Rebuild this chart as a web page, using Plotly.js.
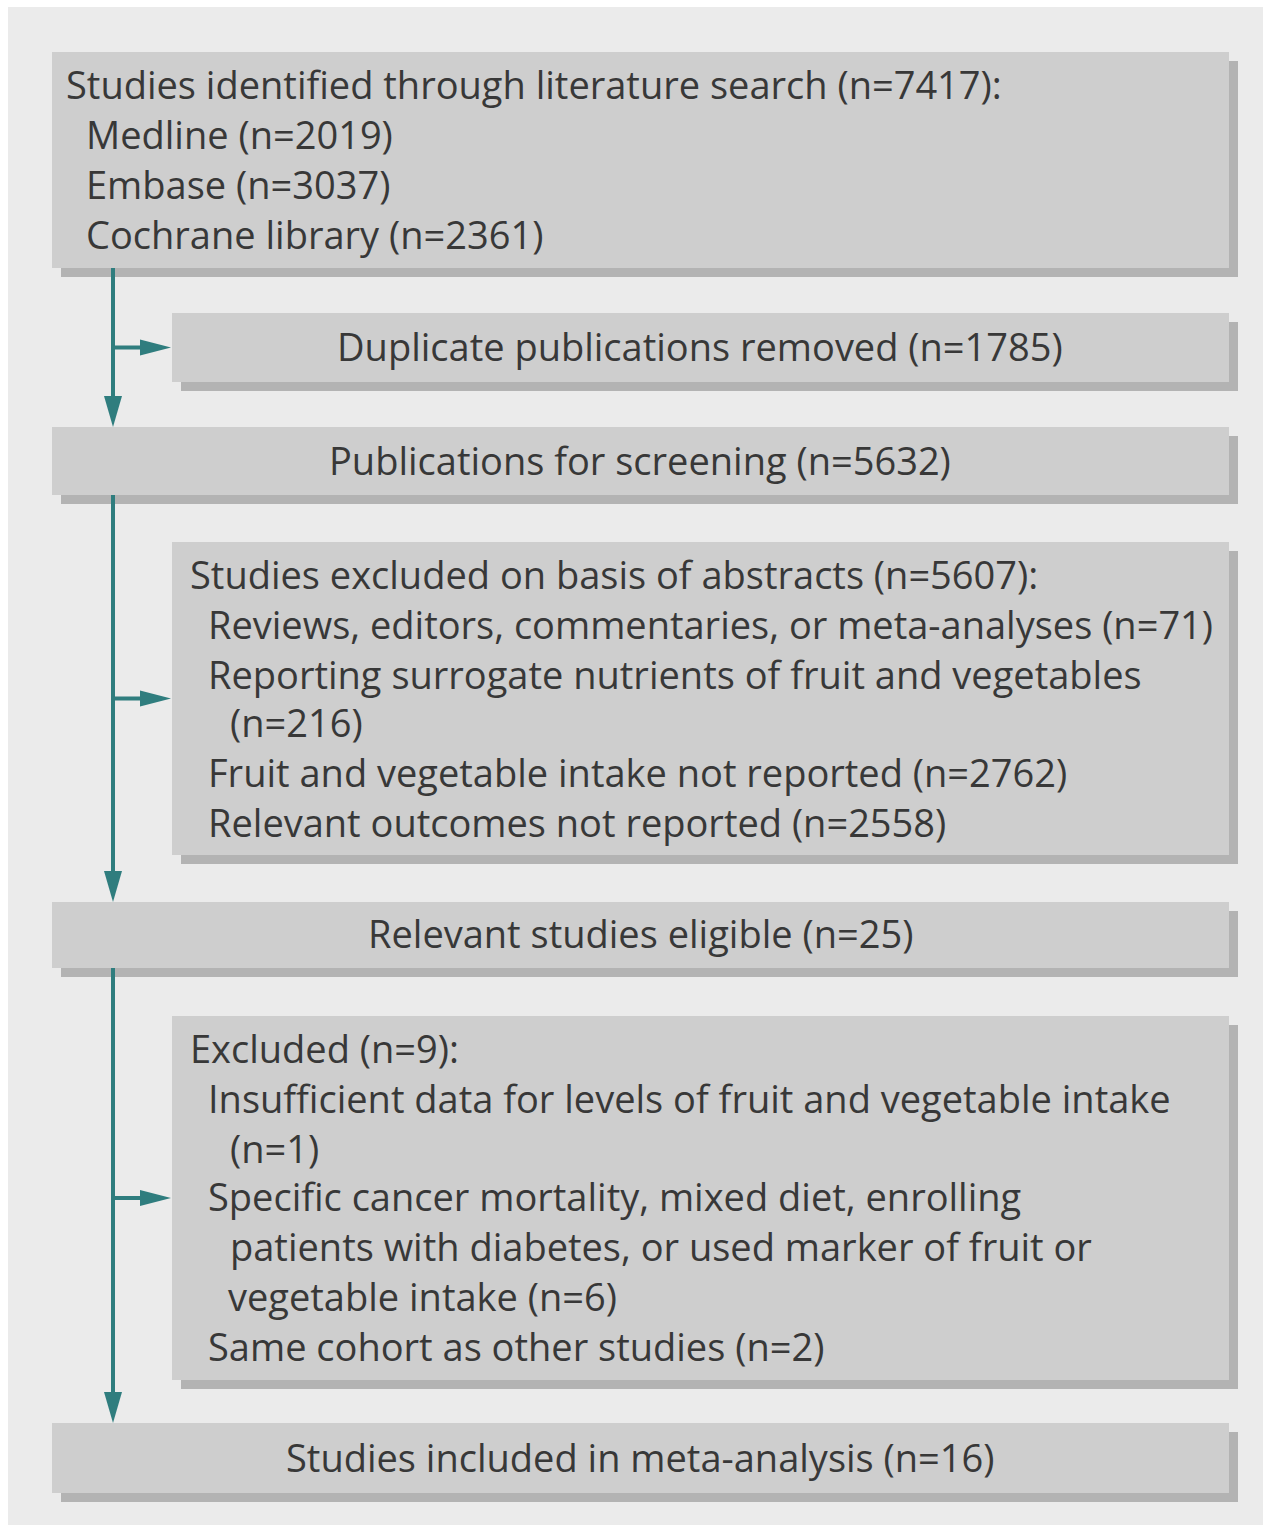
<!DOCTYPE html>
<html>
<head>
<meta charset="utf-8">
<script src="https://cdn.plot.ly/plotly-3.0.1.min.js"></script>
<style>html,body{margin:0;padding:0;background:#fff;}#chart{width:1271px;height:1533px;}</style>
</head>
<body>
<div id="chart"></div>
<script>
// ---- content ----
const box1Lines = ["Studies identified through literature search (n=7417):", "Medline (n=2019)", "Embase (n=3037)", "Cochrane library (n=2361)"];
const box2Lines = ["Duplicate publications removed (n=1785)"];
const box3Lines = ["Publications for screening (n=5632)"];
const box4Lines = ["Studies excluded on basis of abstracts (n=5607):", "Reviews, editors, commentaries, or meta-analyses (n=71)", "Reporting surrogate nutrients of fruit and vegetables", "(n=216)", "Fruit and vegetable intake not reported (n=2762)", "Relevant outcomes not reported (n=2558)"];
const box5Lines = ["Relevant studies eligible (n=25)"];
const box6Lines = ["Excluded (n=9):", "Insufficient data for levels of fruit and vegetable intake", "(n=1)", "Specific cancer mortality, mixed diet, enrolling", "patients with diabetes, or used marker of fruit or", "vegetable intake (n=6)", "Same cohort as other studies (n=2)"];
const box7Lines = ["Studies included in meta-analysis (n=16)"];

// ---- layout geometry (pixels in a 1271 x 1533 coordinate space) ----
const boxes = [
  {lines: box1Lines, x0: 52,  x1: 1229, y0: 52,   y1: 268,  align: 'left', indents: [64, 84, 84, 84], ys: [84, 134, 184, 234]},
  {lines: box2Lines, x0: 172, x1: 1229, y0: 313,  y1: 382,  align: 'center', cx: 700, ys: [346]},
  {lines: box3Lines, x0: 52,  x1: 1229, y0: 427,  y1: 495,  align: 'center', cx: 640, ys: [460]},
  {lines: box4Lines, x0: 172, x1: 1229, y0: 542,  y1: 855,  align: 'left', indents: [188, 206, 206, 228, 206, 206], ys: [574, 624, 674, 722, 772, 822]},
  {lines: box5Lines, x0: 52,  x1: 1229, y0: 902,  y1: 968,  align: 'center', cx: 640, ys: [933]},
  {lines: box6Lines, x0: 172, x1: 1229, y0: 1016, y1: 1380, align: 'left', indents: [188, 206, 228, 206, 228, 226, 206], ys: [1048, 1098, 1148, 1196, 1246, 1296, 1346]},
  {lines: box7Lines, x0: 52,  x1: 1229, y0: 1423, y1: 1493, align: 'center', cx: 640, ys: [1457]}
];

const boxFill = '#cecece', shadowFill = '#b3b3b3', panelFill = '#ebebeb', teal = '#2f7d7e', textColor = '#383838';
const fontFam = '"Open Sans", "Noto Sans", sans-serif', fontSize = 38;
const arrowX = 113, lineW = 4;

const shapes = [];
const annotations = [];

// panel
shapes.push({type: 'rect', xref: 'x', yref: 'y', x0: 8, x1: 1263, y0: 7, y1: 1525, fillcolor: panelFill, line: {width: 0}, layer: 'below'});

boxes.forEach(b => {
  // shadow
  shapes.push({type: 'rect', xref: 'x', yref: 'y', x0: b.x0 + 9, x1: b.x1 + 9, y0: b.y0 + 9, y1: b.y1 + 9, fillcolor: shadowFill, line: {width: 0}, layer: 'below'});
  shapes.push({type: 'rect', xref: 'x', yref: 'y', x0: b.x0, x1: b.x1, y0: b.y0, y1: b.y1, fillcolor: boxFill, line: {width: 0}, layer: 'below'});
  b.lines.forEach((t, i) => {
    annotations.push({
      xref: 'x', yref: 'y',
      x: b.align === 'left' ? b.indents[i] : b.cx,
      y: b.ys[i],
      text: t, showarrow: false,
      xanchor: b.align === 'left' ? 'left' : 'center', yanchor: 'middle',
      font: {family: fontFam, size: fontSize, color: textColor}
    });
  });
});

// vertical arrows: from bottom of main box to top of next main box
const mains = [boxes[0], boxes[2], boxes[4], boxes[6]];
const sides = [boxes[1], boxes[3], boxes[5]];
for (let i = 0; i < 3; i++) {
  const yStart = mains[i].y1, yTip = mains[i + 1].y0;
  shapes.push({type: 'line', xref: 'x', yref: 'y', x0: arrowX, x1: arrowX, y0: yStart, y1: yTip - 20, line: {color: teal, width: lineW}});
  shapes.push({type: 'path', xref: 'x', yref: 'y', path: `M ${arrowX - 9} ${yTip - 31} L ${arrowX + 9} ${yTip - 31} L ${arrowX} ${yTip} Z`, fillcolor: teal, line: {width: 0}});
  // side branch
  const s = sides[i];
  const yb = (s.y0 + s.y1) / 2;
  shapes.push({type: 'line', xref: 'x', yref: 'y', x0: arrowX, x1: s.x0 - 20, y0: yb, y1: yb, line: {color: teal, width: lineW}});
  shapes.push({type: 'path', xref: 'x', yref: 'y', path: `M ${s.x0 - 32} ${yb - 8} L ${s.x0 - 32} ${yb + 8} L ${s.x0 - 1} ${yb} Z`, fillcolor: teal, line: {width: 0}});
}

const layout = {
  width: 1271, height: 1533,
  margin: {l: 0, r: 0, t: 0, b: 0, pad: 0},
  paper_bgcolor: '#ffffff', plot_bgcolor: '#ffffff',
  xaxis: {range: [0, 1271], visible: false, fixedrange: true},
  yaxis: {range: [1533, 0], visible: false, fixedrange: true},
  shapes: shapes, annotations: annotations, showlegend: false
};

Plotly.newPlot('chart', [], layout, {displayModeBar: false, staticPlot: true});
</script>
</body>
</html>
